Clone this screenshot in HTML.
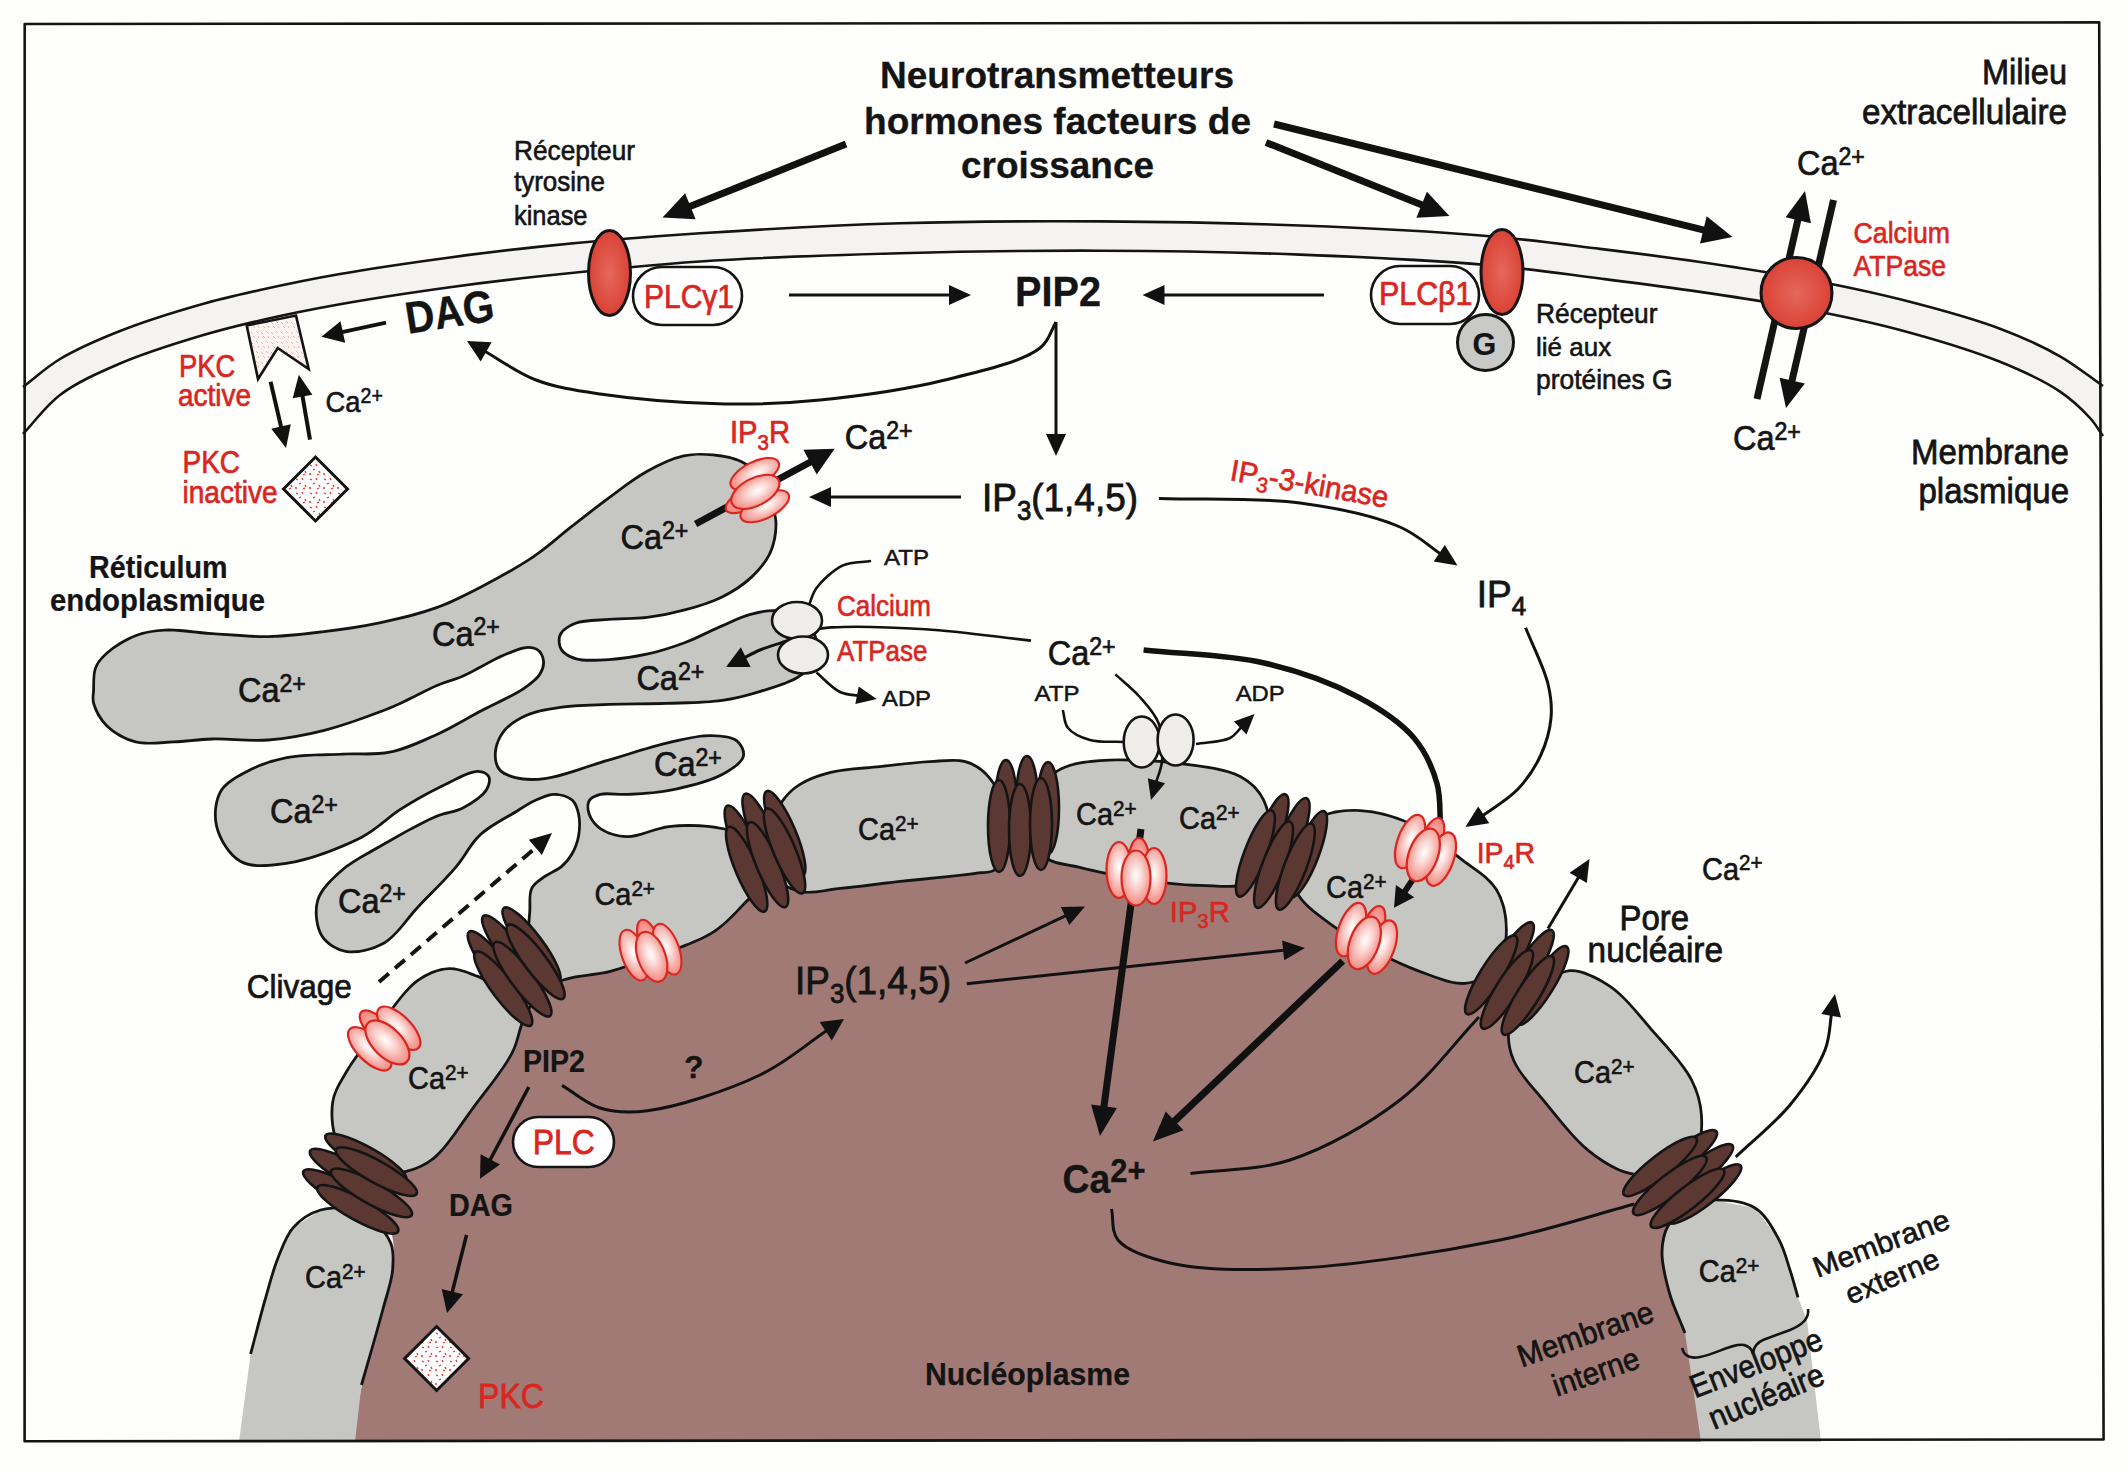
<!DOCTYPE html><html><head><meta charset="utf-8"><title>Signalisation calcique</title><style>html,body{margin:0;padding:0;background:#fefefd;}svg{display:block;}text{font-family:"Liberation Sans",sans-serif;}</style></head><body>
<svg xmlns="http://www.w3.org/2000/svg" width="2128" height="1472" viewBox="0 0 2128 1472">
<defs>
<radialGradient id="ipr" cx="50%" cy="45%" r="58%"><stop offset="0" stop-color="#ffffff"/><stop offset="0.35" stop-color="#fcd9d5"/><stop offset="1" stop-color="#f0827a"/></radialGradient>
<radialGradient id="iprb" cx="50%" cy="50%" r="55%"><stop offset="0" stop-color="#fbc9c4"/><stop offset="1" stop-color="#ee7770"/></radialGradient>
<radialGradient id="rec" cx="50%" cy="50%" r="60%"><stop offset="0" stop-color="#e5685c"/><stop offset="1" stop-color="#d83a2e"/></radialGradient>
<pattern id="pkcd" width="14" height="14" patternUnits="userSpaceOnUse"><rect width="14" height="14" fill="#fff"/><path d="M2,3 l2,1 M8,2 l1,2 M5,8 l2,-1 M11,9 l1,2 M1,12 l2,0 M9,13 l2,-1" stroke="#e8322a" stroke-width="1.3"/></pattern>
<pattern id="pkca" width="10" height="10" patternUnits="userSpaceOnUse"><rect width="10" height="10" fill="#fdf3f1"/><path d="M1,2 l2,2 M6,1 l2,2 M3,6 l2,2 M8,6 l1,2" stroke="#f4a79f" stroke-width="0.9"/></pattern>
</defs>
<rect width="2128" height="1472" fill="#fefefd"/>
<path d="M23.0,387.0 C35.3,377.7 45.7,367.6 60.0,359.0 C77.1,348.7 98.3,339.6 120.0,331.0 C144.5,321.3 175.1,311.8 200.0,304.7 C221.3,298.6 238.5,294.8 260.0,290.0 C284.7,284.5 311.1,279.0 340.0,274.0 C373.7,268.1 415.1,262.2 450.0,257.5 C481.5,253.2 505.7,250.1 540.0,246.6 C585.7,241.9 643.7,237.0 700.0,233.3 C762.9,229.1 833.3,225.3 900.0,223.3 C966.6,221.3 1033.3,221.0 1100.0,221.4 C1166.7,221.8 1234.5,223.0 1300.0,225.5 C1363.4,227.9 1432.5,231.4 1487.0,236.0 C1529.4,239.6 1563.5,244.4 1600.0,248.9 C1634.4,253.1 1666.7,257.2 1700.0,262.0 C1733.4,266.9 1766.7,271.8 1800.0,278.0 C1833.4,284.2 1866.8,290.9 1900.0,299.3 C1933.5,307.8 1971.2,317.9 2000.0,328.7 C2022.9,337.3 2042.1,346.1 2060.0,356.3 C2076.0,365.4 2088.7,376.1 2103.0,386.0 L2103.0,436.0 C2098.7,430.0 2095.7,424.2 2090.0,418.0 C2082.4,409.6 2072.4,399.9 2060.0,391.6 C2044.0,380.8 2022.9,371.1 2000.0,361.8 C1971.3,350.2 1933.5,339.0 1900.0,330.0 C1866.9,321.1 1833.4,314.4 1800.0,308.0 C1766.8,301.7 1733.4,296.8 1700.0,291.9 C1666.7,287.0 1634.4,282.9 1600.0,278.5 C1563.5,273.9 1529.5,268.7 1487.0,265.0 C1432.5,260.2 1363.4,257.0 1300.0,254.6 C1234.5,252.1 1166.7,250.9 1100.0,250.7 C1033.3,250.5 966.7,251.4 900.0,253.2 C833.3,255.0 762.9,257.3 700.0,261.5 C643.6,265.3 585.7,271.4 540.0,276.3 C505.7,280.0 481.5,282.9 450.0,287.2 C415.1,292.0 373.7,298.2 340.0,304.2 C311.2,309.3 284.7,314.7 260.0,320.4 C238.5,325.4 221.3,329.6 200.0,336.0 C175.1,343.5 144.4,353.0 120.0,363.5 C98.2,372.9 76.7,382.3 60.0,395.0 C45.1,406.3 35.3,421.0 23.0,434.0 Z" fill="#f4f3f1"/>
<path d="M23.0,387.0 C35.3,377.7 45.7,367.6 60.0,359.0 C77.1,348.7 98.3,339.6 120.0,331.0 C144.5,321.3 175.1,311.8 200.0,304.7 C221.3,298.6 238.5,294.8 260.0,290.0 C284.7,284.5 311.1,279.0 340.0,274.0 C373.7,268.1 415.1,262.2 450.0,257.5 C481.5,253.2 505.7,250.1 540.0,246.6 C585.7,241.9 643.7,237.0 700.0,233.3 C762.9,229.1 833.3,225.3 900.0,223.3 C966.6,221.3 1033.3,221.0 1100.0,221.4 C1166.7,221.8 1234.5,223.0 1300.0,225.5 C1363.4,227.9 1432.5,231.4 1487.0,236.0 C1529.4,239.6 1563.5,244.4 1600.0,248.9 C1634.4,253.1 1666.7,257.2 1700.0,262.0 C1733.4,266.9 1766.7,271.8 1800.0,278.0 C1833.4,284.2 1866.8,290.9 1900.0,299.3 C1933.5,307.8 1971.2,317.9 2000.0,328.7 C2022.9,337.3 2042.1,346.1 2060.0,356.3 C2076.0,365.4 2088.7,376.1 2103.0,386.0" fill="none" stroke="#141414" stroke-width="2.6" />
<path d="M23.0,434.0 C35.3,421.0 45.1,406.3 60.0,395.0 C76.7,382.3 98.2,372.9 120.0,363.5 C144.4,353.0 175.1,343.5 200.0,336.0 C221.3,329.6 238.5,325.4 260.0,320.4 C284.7,314.7 311.2,309.3 340.0,304.2 C373.7,298.2 415.1,292.0 450.0,287.2 C481.5,282.9 505.7,280.0 540.0,276.3 C585.7,271.4 643.6,265.3 700.0,261.5 C762.9,257.3 833.3,255.0 900.0,253.2 C966.7,251.4 1033.3,250.5 1100.0,250.7 C1166.7,250.9 1234.5,252.1 1300.0,254.6 C1363.4,257.0 1432.5,260.2 1487.0,265.0 C1529.5,268.7 1563.5,273.9 1600.0,278.5 C1634.4,282.9 1666.7,287.0 1700.0,291.9 C1733.4,296.8 1766.8,301.7 1800.0,308.0 C1833.4,314.4 1866.9,321.1 1900.0,330.0 C1933.5,339.0 1971.3,350.2 2000.0,361.8 C2022.9,371.1 2044.0,380.8 2060.0,391.6 C2072.4,399.9 2082.4,409.6 2090.0,418.0 C2095.7,424.2 2098.7,430.0 2103.0,436.0" fill="none" stroke="#141414" stroke-width="2.6" />
<path d="M352.0,1442.0 C355.3,1423.0 357.4,1405.2 362.0,1385.0 C367.3,1361.4 377.4,1332.3 383.0,1309.0 C387.7,1289.6 393.3,1272.7 394.0,1255.0 C394.7,1238.1 386.9,1218.7 388.0,1205.0 C388.8,1195.1 389.5,1187.3 395.0,1180.0 C402.2,1170.5 421.1,1167.5 433.0,1157.0 C447.2,1144.4 460.0,1124.4 472.0,1107.0 C484.0,1089.5 497.8,1069.6 505.0,1052.0 C510.9,1037.5 512.0,1022.8 515.0,1010.0 C517.6,999.2 516.2,985.5 522.0,980.0 C527.0,975.2 537.6,976.5 545.0,976.0 C551.9,975.6 557.0,977.4 565.0,977.0 C577.0,976.4 595.6,973.6 610.0,970.0 C623.9,966.5 637.6,960.2 650.0,956.0 C660.7,952.3 669.8,950.1 680.0,946.0 C691.1,941.6 703.6,937.8 714.0,930.0 C725.6,921.3 736.1,906.9 745.0,895.0 C753.2,884.2 757.9,863.5 766.0,862.0 C773.1,860.7 781.8,876.0 790.0,880.0 C797.2,883.5 802.1,885.1 812.0,886.0 C831.5,887.7 871.0,881.4 900.0,878.0 C928.6,874.7 964.1,876.6 985.0,866.0 C1001.0,857.9 1007.8,831.1 1020.0,830.0 C1031.2,829.0 1044.4,849.6 1055.0,855.0 C1062.6,858.9 1067.2,859.6 1076.0,862.0 C1090.4,865.9 1114.0,870.4 1134.0,874.0 C1155.2,877.8 1180.1,883.4 1200.0,884.0 C1216.4,884.5 1231.9,884.3 1245.0,880.0 C1256.5,876.3 1266.0,860.6 1275.0,862.0 C1284.4,863.4 1290.6,880.3 1300.0,890.0 C1311.1,901.5 1323.3,915.4 1338.0,926.0 C1354.2,937.7 1374.4,947.3 1394.0,956.0 C1414.3,965.0 1442.0,976.6 1458.0,979.0 C1467.1,980.4 1472.2,977.1 1480.0,978.0 C1489.1,979.0 1502.3,979.4 1509.0,986.0 C1516.7,993.7 1514.8,1011.5 1520.0,1025.0 C1526.2,1040.9 1534.3,1058.5 1545.0,1075.0 C1557.0,1093.6 1573.2,1115.5 1590.0,1130.0 C1605.2,1143.1 1625.2,1150.4 1640.0,1160.0 C1652.3,1168.0 1666.7,1172.7 1673.0,1183.0 C1679.0,1192.9 1676.8,1209.5 1678.0,1220.0 C1678.9,1227.7 1679.6,1231.8 1680.0,1240.0 C1680.6,1252.9 1677.8,1274.1 1680.0,1290.0 C1682.1,1305.0 1688.2,1315.2 1692.0,1333.0 C1697.9,1360.9 1702.7,1405.7 1708.0,1442.0 Z" fill="#a17a75"/>
<path d="M95.0,690.0 C95.3,683.6 94.5,674.2 97.0,668.0 C99.2,662.4 103.0,658.5 108.0,654.0 C114.8,648.0 126.2,640.8 136.0,637.0 C145.3,633.4 154.1,632.1 165.0,631.5 C178.7,630.7 195.6,634.0 212.0,635.0 C229.8,636.1 249.3,638.3 268.0,638.0 C286.7,637.7 305.3,635.3 324.0,633.0 C343.0,630.7 362.2,628.0 381.0,624.0 C399.9,620.0 419.4,615.4 437.0,609.0 C453.6,602.9 468.3,595.2 484.0,587.0 C500.6,578.3 518.8,568.3 534.0,558.0 C547.9,548.6 559.4,537.8 572.0,528.0 C584.4,518.3 596.5,508.7 609.0,499.5 C621.5,490.4 634.0,480.2 647.0,473.0 C659.1,466.3 672.2,459.9 684.0,457.3 C693.9,455.1 703.1,455.4 712.6,456.3 C722.1,457.2 732.8,459.1 741.0,463.0 C748.4,466.6 755.1,471.5 760.0,478.0 C765.4,485.2 768.5,496.7 771.0,505.0 C773.0,511.8 774.6,517.1 774.6,524.0 C774.6,532.4 772.9,543.4 769.0,552.0 C764.9,561.0 757.6,569.5 750.0,576.6 C742.1,584.0 732.4,590.2 722.0,595.4 C710.7,601.1 697.0,605.1 684.4,608.6 C672.0,612.0 659.6,614.4 647.0,616.0 C634.4,617.6 621.3,617.0 609.0,618.0 C597.3,619.0 583.9,618.5 575.0,622.0 C568.2,624.7 561.3,629.0 559.0,634.0 C556.9,638.5 557.5,645.7 560.0,650.0 C562.6,654.5 568.6,658.0 575.0,660.0 C583.7,662.8 597.4,661.6 609.0,661.0 C621.3,660.3 634.5,658.4 647.0,655.6 C659.6,652.8 672.1,648.9 684.4,644.3 C697.1,639.6 710.3,632.4 722.0,627.4 C732.0,623.1 740.8,618.6 750.0,616.0 C758.4,613.6 766.7,611.7 775.0,612.0 C783.4,612.3 793.4,613.4 800.0,618.0 C806.8,622.7 813.2,632.3 815.0,640.0 C816.7,647.0 815.1,655.9 812.0,662.0 C809.0,667.8 803.6,671.9 797.0,676.0 C787.8,681.7 772.5,686.2 760.0,690.0 C747.5,693.8 736.0,697.0 722.0,699.0 C705.2,701.4 684.8,701.3 666.0,702.0 C647.1,702.7 627.3,702.3 609.0,703.0 C592.0,703.7 574.8,703.8 560.0,706.0 C547.5,707.8 535.9,709.6 526.0,714.0 C517.2,717.9 508.4,723.3 503.0,730.0 C498.1,736.2 494.6,744.9 494.0,752.0 C493.5,758.2 494.6,765.5 498.0,770.0 C501.5,774.6 508.3,777.2 515.0,779.0 C523.4,781.2 533.3,781.5 545.0,780.0 C562.1,777.9 586.3,768.0 607.0,762.0 C627.7,756.0 650.4,748.3 669.0,744.0 C684.0,740.6 697.9,736.9 710.0,737.0 C719.7,737.1 730.8,737.8 736.0,742.0 C740.0,745.2 743.1,751.5 742.0,756.0 C740.6,761.9 730.9,768.1 722.0,773.0 C709.1,780.0 685.8,785.7 669.0,789.0 C654.3,791.9 639.5,792.4 627.0,793.0 C617.0,793.5 607.0,791.1 600.0,793.0 C595.0,794.4 590.0,796.5 588.0,800.0 C585.9,803.7 586.3,810.3 588.0,815.0 C589.9,820.3 594.4,826.3 600.0,830.0 C606.7,834.5 617.0,837.7 627.0,838.0 C639.4,838.3 655.0,829.6 669.0,828.0 C682.7,826.4 698.1,826.8 710.0,828.0 C719.4,828.9 726.7,831.0 735.0,833.0 C743.4,835.0 754.2,834.5 760.0,840.0 C766.4,846.1 771.8,860.2 770.0,870.0 C767.8,881.6 751.7,893.7 742.0,904.0 C733.0,913.6 724.4,923.0 714.0,930.0 C703.7,937.0 691.1,941.6 680.0,946.0 C669.8,950.1 660.7,952.3 650.0,956.0 C637.6,960.2 623.9,966.4 610.0,970.0 C595.6,973.8 577.6,973.9 565.0,978.0 C555.2,981.2 546.9,983.7 540.0,990.0 C532.2,997.1 526.9,1009.6 522.0,1020.0 C517.2,1030.3 517.0,1040.4 511.0,1052.0 C502.6,1068.4 485.2,1089.2 472.0,1107.0 C459.2,1124.2 446.1,1146.5 433.0,1157.0 C424.0,1164.2 415.9,1167.4 406.0,1170.0 C395.1,1172.8 380.8,1175.8 370.0,1172.0 C358.6,1168.0 346.0,1156.3 340.0,1145.0 C333.8,1133.4 332.2,1115.7 334.0,1103.0 C335.6,1091.6 341.7,1082.8 348.0,1072.0 C355.8,1058.5 367.8,1043.5 379.0,1029.0 C391.0,1013.5 404.4,991.8 418.0,982.0 C428.0,974.8 438.8,970.5 449.0,970.0 C458.7,969.5 468.6,974.6 478.0,978.0 C487.3,981.3 497.4,992.2 505.0,990.0 C513.4,987.6 520.6,971.6 525.0,960.0 C530.0,946.8 529.6,927.0 531.0,914.0 C532.0,904.4 530.0,895.2 533.0,889.0 C535.5,884.0 540.5,881.4 545.0,878.0 C550.0,874.3 557.2,872.0 562.0,868.0 C566.4,864.3 570.1,860.0 573.0,855.0 C576.2,849.5 578.8,842.7 580.0,836.0 C581.2,829.0 581.4,820.5 580.0,814.0 C578.8,808.4 577.0,802.5 573.0,799.0 C568.6,795.2 560.3,793.0 554.0,793.0 C547.7,793.0 541.2,796.3 535.0,799.0 C528.5,801.9 523.3,805.5 516.0,810.0 C505.6,816.4 489.3,824.4 479.0,834.0 C469.2,843.2 464.3,855.0 455.0,866.0 C444.1,878.9 429.3,893.0 417.0,906.0 C405.3,918.3 395.8,934.8 383.0,942.0 C371.8,948.3 356.5,951.9 346.0,950.0 C337.0,948.3 327.6,942.4 323.0,935.0 C317.9,926.7 316.1,911.3 319.0,901.0 C322.1,890.3 332.5,880.5 342.0,872.0 C352.5,862.6 365.9,856.2 380.0,848.0 C396.7,838.3 420.3,824.7 436.0,818.0 C446.7,813.5 455.4,813.6 464.0,809.0 C472.8,804.3 484.2,796.7 488.0,790.0 C490.6,785.5 491.8,779.3 490.0,776.0 C488.3,772.7 483.2,770.2 478.0,770.0 C469.1,769.7 453.5,779.0 441.0,785.0 C427.5,791.5 413.3,799.6 400.0,808.0 C386.6,816.5 376.8,827.8 361.0,836.0 C340.7,846.5 308.1,858.8 286.0,862.0 C269.4,864.4 252.4,866.4 241.0,860.0 C230.1,853.9 220.9,837.9 218.0,826.0 C215.4,815.1 216.8,801.0 222.0,792.0 C227.2,783.1 238.8,777.4 249.0,772.0 C260.2,766.1 272.9,761.8 287.0,759.0 C303.7,755.7 325.1,756.4 343.0,755.5 C359.3,754.7 374.6,756.7 390.0,753.6 C405.9,750.4 421.7,742.9 437.0,736.0 C452.4,729.0 467.2,719.8 482.0,712.0 C496.2,704.5 513.4,697.3 524.0,690.0 C531.3,685.0 537.6,680.3 541.0,675.0 C543.7,670.9 545.2,666.2 545.0,662.0 C544.8,657.9 542.9,652.7 540.0,650.0 C537.2,647.4 532.7,646.0 528.0,646.0 C521.2,646.0 512.2,650.2 503.0,654.0 C490.8,659.0 474.1,669.7 462.0,675.0 C452.8,679.0 446.0,680.2 437.0,684.0 C425.8,688.7 410.4,697.3 400.0,702.0 C392.7,705.3 389.1,706.9 381.0,710.0 C367.2,715.2 343.1,724.2 324.0,729.0 C305.4,733.7 286.7,737.2 268.0,738.6 C249.4,740.0 228.9,737.1 212.0,737.6 C198.1,738.0 186.7,740.0 174.0,740.5 C161.3,741.0 147.4,743.4 136.0,740.5 C125.6,737.8 115.0,731.8 108.0,725.0 C101.8,718.9 96.8,709.6 95.0,703.0 C93.7,698.3 94.8,694.9 95.0,690.0Z" fill="#141414" stroke="#141414" stroke-width="5.6" stroke-linejoin="round"/>
<path d="M785.0,800.0 C789.5,793.9 793.7,790.0 800.0,786.0 C807.9,781.0 818.5,776.9 830.0,774.0 C844.3,770.3 863.3,769.8 880.0,768.0 C896.7,766.2 914.8,763.8 930.0,763.0 C942.7,762.4 955.3,760.3 965.0,763.0 C973.0,765.2 979.4,769.4 985.0,775.0 C991.3,781.3 996.6,790.3 1000.0,800.0 C1003.9,811.4 1006.3,828.0 1005.0,840.0 C1003.9,850.3 1000.9,862.9 995.0,868.0 C990.1,872.2 983.8,870.6 975.0,872.0 C958.0,874.6 923.6,877.4 900.0,880.0 C878.9,882.4 858.0,885.3 840.0,887.0 C825.3,888.4 811.7,893.0 800.0,890.0 C789.3,887.3 777.2,881.0 772.0,872.0 C766.1,861.8 767.4,842.5 770.0,830.0 C772.4,818.8 779.2,807.7 785.0,800.0Z" fill="#141414" stroke="#141414" stroke-width="5.6" stroke-linejoin="round"/>
<path d="M1040.0,790.0 C1044.5,781.7 1052.9,774.6 1062.0,770.0 C1072.4,764.7 1084.9,763.3 1100.0,762.0 C1121.7,760.2 1155.4,761.9 1180.0,765.0 C1201.6,767.7 1225.7,770.2 1240.0,778.0 C1250.2,783.6 1257.3,790.6 1262.0,800.0 C1267.4,810.7 1269.8,826.9 1268.0,840.0 C1266.1,853.6 1260.6,872.5 1250.0,880.0 C1238.6,888.0 1217.4,884.2 1200.0,884.0 C1180.9,883.8 1159.9,881.0 1140.0,878.0 C1119.9,875.0 1097.2,870.4 1080.0,866.0 C1066.7,862.6 1052.5,862.7 1045.0,855.0 C1037.5,847.3 1035.6,831.3 1035.0,820.0 C1034.4,809.7 1035.4,798.4 1040.0,790.0Z" fill="#141414" stroke="#141414" stroke-width="5.6" stroke-linejoin="round"/>
<path d="M1300.0,840.0 C1305.4,831.8 1312.7,822.7 1322.0,818.0 C1332.3,812.8 1346.5,811.3 1360.0,812.0 C1375.6,812.8 1394.0,817.6 1410.0,825.0 C1427.4,833.0 1445.1,848.4 1460.0,860.0 C1473.0,870.1 1487.5,877.9 1495.0,890.0 C1502.1,901.4 1505.1,916.8 1505.0,930.0 C1504.9,942.8 1502.3,959.3 1495.0,968.0 C1488.3,976.0 1476.2,981.0 1465.0,982.0 C1451.7,983.2 1434.4,975.1 1420.0,970.0 C1406.1,965.0 1393.9,959.2 1380.0,952.0 C1364.0,943.7 1344.1,932.4 1330.0,922.0 C1318.2,913.3 1306.7,905.2 1300.0,895.0 C1294.1,886.0 1289.7,874.5 1290.0,865.0 C1290.3,856.2 1295.0,847.6 1300.0,840.0Z" fill="#141414" stroke="#141414" stroke-width="5.6" stroke-linejoin="round"/>
<path d="M1545.0,985.0 C1553.3,980.4 1560.6,972.5 1570.0,972.0 C1581.7,971.4 1597.5,979.6 1610.0,988.0 C1624.5,997.8 1637.0,1015.1 1650.0,1030.0 C1663.7,1045.7 1681.7,1064.0 1690.0,1080.0 C1696.2,1092.1 1699.2,1103.2 1700.0,1115.0 C1700.8,1126.6 1700.3,1140.7 1695.0,1150.0 C1690.0,1158.8 1680.0,1166.2 1670.0,1170.0 C1658.8,1174.3 1642.9,1175.0 1630.0,1172.0 C1616.2,1168.8 1602.9,1160.2 1590.0,1150.0 C1574.4,1137.6 1558.2,1116.0 1545.0,1100.0 C1533.6,1086.2 1520.6,1073.0 1515.0,1060.0 C1510.6,1049.8 1509.2,1039.9 1510.0,1030.0 C1510.8,1019.9 1513.9,1007.6 1520.0,1000.0 C1525.8,992.7 1536.6,989.7 1545.0,985.0Z" fill="#141414" stroke="#141414" stroke-width="5.6" stroke-linejoin="round"/>
<path d="M95.0,690.0 C95.3,683.6 94.5,674.2 97.0,668.0 C99.2,662.4 103.0,658.5 108.0,654.0 C114.8,648.0 126.2,640.8 136.0,637.0 C145.3,633.4 154.1,632.1 165.0,631.5 C178.7,630.7 195.6,634.0 212.0,635.0 C229.8,636.1 249.3,638.3 268.0,638.0 C286.7,637.7 305.3,635.3 324.0,633.0 C343.0,630.7 362.2,628.0 381.0,624.0 C399.9,620.0 419.4,615.4 437.0,609.0 C453.6,602.9 468.3,595.2 484.0,587.0 C500.6,578.3 518.8,568.3 534.0,558.0 C547.9,548.6 559.4,537.8 572.0,528.0 C584.4,518.3 596.5,508.7 609.0,499.5 C621.5,490.4 634.0,480.2 647.0,473.0 C659.1,466.3 672.2,459.9 684.0,457.3 C693.9,455.1 703.1,455.4 712.6,456.3 C722.1,457.2 732.8,459.1 741.0,463.0 C748.4,466.6 755.1,471.5 760.0,478.0 C765.4,485.2 768.5,496.7 771.0,505.0 C773.0,511.8 774.6,517.1 774.6,524.0 C774.6,532.4 772.9,543.4 769.0,552.0 C764.9,561.0 757.6,569.5 750.0,576.6 C742.1,584.0 732.4,590.2 722.0,595.4 C710.7,601.1 697.0,605.1 684.4,608.6 C672.0,612.0 659.6,614.4 647.0,616.0 C634.4,617.6 621.3,617.0 609.0,618.0 C597.3,619.0 583.9,618.5 575.0,622.0 C568.2,624.7 561.3,629.0 559.0,634.0 C556.9,638.5 557.5,645.7 560.0,650.0 C562.6,654.5 568.6,658.0 575.0,660.0 C583.7,662.8 597.4,661.6 609.0,661.0 C621.3,660.3 634.5,658.4 647.0,655.6 C659.6,652.8 672.1,648.9 684.4,644.3 C697.1,639.6 710.3,632.4 722.0,627.4 C732.0,623.1 740.8,618.6 750.0,616.0 C758.4,613.6 766.7,611.7 775.0,612.0 C783.4,612.3 793.4,613.4 800.0,618.0 C806.8,622.7 813.2,632.3 815.0,640.0 C816.7,647.0 815.1,655.9 812.0,662.0 C809.0,667.8 803.6,671.9 797.0,676.0 C787.8,681.7 772.5,686.2 760.0,690.0 C747.5,693.8 736.0,697.0 722.0,699.0 C705.2,701.4 684.8,701.3 666.0,702.0 C647.1,702.7 627.3,702.3 609.0,703.0 C592.0,703.7 574.8,703.8 560.0,706.0 C547.5,707.8 535.9,709.6 526.0,714.0 C517.2,717.9 508.4,723.3 503.0,730.0 C498.1,736.2 494.6,744.9 494.0,752.0 C493.5,758.2 494.6,765.5 498.0,770.0 C501.5,774.6 508.3,777.2 515.0,779.0 C523.4,781.2 533.3,781.5 545.0,780.0 C562.1,777.9 586.3,768.0 607.0,762.0 C627.7,756.0 650.4,748.3 669.0,744.0 C684.0,740.6 697.9,736.9 710.0,737.0 C719.7,737.1 730.8,737.8 736.0,742.0 C740.0,745.2 743.1,751.5 742.0,756.0 C740.6,761.9 730.9,768.1 722.0,773.0 C709.1,780.0 685.8,785.7 669.0,789.0 C654.3,791.9 639.5,792.4 627.0,793.0 C617.0,793.5 607.0,791.1 600.0,793.0 C595.0,794.4 590.0,796.5 588.0,800.0 C585.9,803.7 586.3,810.3 588.0,815.0 C589.9,820.3 594.4,826.3 600.0,830.0 C606.7,834.5 617.0,837.7 627.0,838.0 C639.4,838.3 655.0,829.6 669.0,828.0 C682.7,826.4 698.1,826.8 710.0,828.0 C719.4,828.9 726.7,831.0 735.0,833.0 C743.4,835.0 754.2,834.5 760.0,840.0 C766.4,846.1 771.8,860.2 770.0,870.0 C767.8,881.6 751.7,893.7 742.0,904.0 C733.0,913.6 724.4,923.0 714.0,930.0 C703.7,937.0 691.1,941.6 680.0,946.0 C669.8,950.1 660.7,952.3 650.0,956.0 C637.6,960.2 623.9,966.4 610.0,970.0 C595.6,973.8 577.6,973.9 565.0,978.0 C555.2,981.2 546.9,983.7 540.0,990.0 C532.2,997.1 526.9,1009.6 522.0,1020.0 C517.2,1030.3 517.0,1040.4 511.0,1052.0 C502.6,1068.4 485.2,1089.2 472.0,1107.0 C459.2,1124.2 446.1,1146.5 433.0,1157.0 C424.0,1164.2 415.9,1167.4 406.0,1170.0 C395.1,1172.8 380.8,1175.8 370.0,1172.0 C358.6,1168.0 346.0,1156.3 340.0,1145.0 C333.8,1133.4 332.2,1115.7 334.0,1103.0 C335.6,1091.6 341.7,1082.8 348.0,1072.0 C355.8,1058.5 367.8,1043.5 379.0,1029.0 C391.0,1013.5 404.4,991.8 418.0,982.0 C428.0,974.8 438.8,970.5 449.0,970.0 C458.7,969.5 468.6,974.6 478.0,978.0 C487.3,981.3 497.4,992.2 505.0,990.0 C513.4,987.6 520.6,971.6 525.0,960.0 C530.0,946.8 529.6,927.0 531.0,914.0 C532.0,904.4 530.0,895.2 533.0,889.0 C535.5,884.0 540.5,881.4 545.0,878.0 C550.0,874.3 557.2,872.0 562.0,868.0 C566.4,864.3 570.1,860.0 573.0,855.0 C576.2,849.5 578.8,842.7 580.0,836.0 C581.2,829.0 581.4,820.5 580.0,814.0 C578.8,808.4 577.0,802.5 573.0,799.0 C568.6,795.2 560.3,793.0 554.0,793.0 C547.7,793.0 541.2,796.3 535.0,799.0 C528.5,801.9 523.3,805.5 516.0,810.0 C505.6,816.4 489.3,824.4 479.0,834.0 C469.2,843.2 464.3,855.0 455.0,866.0 C444.1,878.9 429.3,893.0 417.0,906.0 C405.3,918.3 395.8,934.8 383.0,942.0 C371.8,948.3 356.5,951.9 346.0,950.0 C337.0,948.3 327.6,942.4 323.0,935.0 C317.9,926.7 316.1,911.3 319.0,901.0 C322.1,890.3 332.5,880.5 342.0,872.0 C352.5,862.6 365.9,856.2 380.0,848.0 C396.7,838.3 420.3,824.7 436.0,818.0 C446.7,813.5 455.4,813.6 464.0,809.0 C472.8,804.3 484.2,796.7 488.0,790.0 C490.6,785.5 491.8,779.3 490.0,776.0 C488.3,772.7 483.2,770.2 478.0,770.0 C469.1,769.7 453.5,779.0 441.0,785.0 C427.5,791.5 413.3,799.6 400.0,808.0 C386.6,816.5 376.8,827.8 361.0,836.0 C340.7,846.5 308.1,858.8 286.0,862.0 C269.4,864.4 252.4,866.4 241.0,860.0 C230.1,853.9 220.9,837.9 218.0,826.0 C215.4,815.1 216.8,801.0 222.0,792.0 C227.2,783.1 238.8,777.4 249.0,772.0 C260.2,766.1 272.9,761.8 287.0,759.0 C303.7,755.7 325.1,756.4 343.0,755.5 C359.3,754.7 374.6,756.7 390.0,753.6 C405.9,750.4 421.7,742.9 437.0,736.0 C452.4,729.0 467.2,719.8 482.0,712.0 C496.2,704.5 513.4,697.3 524.0,690.0 C531.3,685.0 537.6,680.3 541.0,675.0 C543.7,670.9 545.2,666.2 545.0,662.0 C544.8,657.9 542.9,652.7 540.0,650.0 C537.2,647.4 532.7,646.0 528.0,646.0 C521.2,646.0 512.2,650.2 503.0,654.0 C490.8,659.0 474.1,669.7 462.0,675.0 C452.8,679.0 446.0,680.2 437.0,684.0 C425.8,688.7 410.4,697.3 400.0,702.0 C392.7,705.3 389.1,706.9 381.0,710.0 C367.2,715.2 343.1,724.2 324.0,729.0 C305.4,733.7 286.7,737.2 268.0,738.6 C249.4,740.0 228.9,737.1 212.0,737.6 C198.1,738.0 186.7,740.0 174.0,740.5 C161.3,741.0 147.4,743.4 136.0,740.5 C125.6,737.8 115.0,731.8 108.0,725.0 C101.8,718.9 96.8,709.6 95.0,703.0 C93.7,698.3 94.8,694.9 95.0,690.0Z" fill="#c6c6c3"/>
<path d="M785.0,800.0 C789.5,793.9 793.7,790.0 800.0,786.0 C807.9,781.0 818.5,776.9 830.0,774.0 C844.3,770.3 863.3,769.8 880.0,768.0 C896.7,766.2 914.8,763.8 930.0,763.0 C942.7,762.4 955.3,760.3 965.0,763.0 C973.0,765.2 979.4,769.4 985.0,775.0 C991.3,781.3 996.6,790.3 1000.0,800.0 C1003.9,811.4 1006.3,828.0 1005.0,840.0 C1003.9,850.3 1000.9,862.9 995.0,868.0 C990.1,872.2 983.8,870.6 975.0,872.0 C958.0,874.6 923.6,877.4 900.0,880.0 C878.9,882.4 858.0,885.3 840.0,887.0 C825.3,888.4 811.7,893.0 800.0,890.0 C789.3,887.3 777.2,881.0 772.0,872.0 C766.1,861.8 767.4,842.5 770.0,830.0 C772.4,818.8 779.2,807.7 785.0,800.0Z" fill="#c6c6c3"/>
<path d="M1040.0,790.0 C1044.5,781.7 1052.9,774.6 1062.0,770.0 C1072.4,764.7 1084.9,763.3 1100.0,762.0 C1121.7,760.2 1155.4,761.9 1180.0,765.0 C1201.6,767.7 1225.7,770.2 1240.0,778.0 C1250.2,783.6 1257.3,790.6 1262.0,800.0 C1267.4,810.7 1269.8,826.9 1268.0,840.0 C1266.1,853.6 1260.6,872.5 1250.0,880.0 C1238.6,888.0 1217.4,884.2 1200.0,884.0 C1180.9,883.8 1159.9,881.0 1140.0,878.0 C1119.9,875.0 1097.2,870.4 1080.0,866.0 C1066.7,862.6 1052.5,862.7 1045.0,855.0 C1037.5,847.3 1035.6,831.3 1035.0,820.0 C1034.4,809.7 1035.4,798.4 1040.0,790.0Z" fill="#c6c6c3"/>
<path d="M1300.0,840.0 C1305.4,831.8 1312.7,822.7 1322.0,818.0 C1332.3,812.8 1346.5,811.3 1360.0,812.0 C1375.6,812.8 1394.0,817.6 1410.0,825.0 C1427.4,833.0 1445.1,848.4 1460.0,860.0 C1473.0,870.1 1487.5,877.9 1495.0,890.0 C1502.1,901.4 1505.1,916.8 1505.0,930.0 C1504.9,942.8 1502.3,959.3 1495.0,968.0 C1488.3,976.0 1476.2,981.0 1465.0,982.0 C1451.7,983.2 1434.4,975.1 1420.0,970.0 C1406.1,965.0 1393.9,959.2 1380.0,952.0 C1364.0,943.7 1344.1,932.4 1330.0,922.0 C1318.2,913.3 1306.7,905.2 1300.0,895.0 C1294.1,886.0 1289.7,874.5 1290.0,865.0 C1290.3,856.2 1295.0,847.6 1300.0,840.0Z" fill="#c6c6c3"/>
<path d="M1545.0,985.0 C1553.3,980.4 1560.6,972.5 1570.0,972.0 C1581.7,971.4 1597.5,979.6 1610.0,988.0 C1624.5,997.8 1637.0,1015.1 1650.0,1030.0 C1663.7,1045.7 1681.7,1064.0 1690.0,1080.0 C1696.2,1092.1 1699.2,1103.2 1700.0,1115.0 C1700.8,1126.6 1700.3,1140.7 1695.0,1150.0 C1690.0,1158.8 1680.0,1166.2 1670.0,1170.0 C1658.8,1174.3 1642.9,1175.0 1630.0,1172.0 C1616.2,1168.8 1602.9,1160.2 1590.0,1150.0 C1574.4,1137.6 1558.2,1116.0 1545.0,1100.0 C1533.6,1086.2 1520.6,1073.0 1515.0,1060.0 C1510.6,1049.8 1509.2,1039.9 1510.0,1030.0 C1510.8,1019.9 1513.9,1007.6 1520.0,1000.0 C1525.8,992.7 1536.6,989.7 1545.0,985.0Z" fill="#c6c6c3"/>
<path d="M1685.0,1333.0 L1669.6,1293.5 L1662.0,1252.0 L1668.0,1226.0 L1690.0,1205.0 L1712.5,1200.0 L1755.0,1208.0 L1778.6,1239.0 L1790.0,1270.0 L1798.0,1297.4 L1807.0,1320.0 L1821.0,1442.0 L1701.0,1442.0 Z" fill="#c6c6c3"/>
<path d="M1685.0,1333.0 C1679.9,1319.8 1673.4,1307.0 1669.6,1293.5 C1665.8,1280.0 1661.7,1264.2 1662.0,1252.0 C1662.2,1242.3 1663.6,1233.6 1668.0,1226.0 C1672.6,1217.8 1682.0,1209.3 1690.0,1205.0 C1697.0,1201.3 1703.8,1200.1 1712.5,1200.0 C1724.4,1199.8 1743.8,1201.1 1755.0,1208.0 C1765.6,1214.5 1772.7,1228.2 1778.6,1239.0 C1784.1,1248.9 1786.7,1259.9 1790.0,1270.0 C1793.1,1279.4 1795.3,1288.3 1798.0,1297.4" fill="none" stroke="#141414" stroke-width="2.8" />
<path d="M250.6,1354.0 L265.0,1300.0 L277.8,1258.5 L293.4,1227.4 L320.6,1210.0 L350.0,1210.0 L371.0,1219.6 L390.7,1243.0 L392.6,1270.0 L383.0,1309.0 L361.5,1385.0 L355.0,1442.0 L239.0,1442.0 Z" fill="#c6c6c3"/>
<path d="M250.6,1354.0 C255.4,1336.0 260.2,1316.8 265.0,1300.0 C269.3,1285.2 272.7,1271.1 277.8,1258.5 C282.3,1247.2 286.1,1235.6 293.4,1227.4 C300.5,1219.5 310.9,1212.8 320.6,1210.0 C329.8,1207.3 341.2,1208.1 350.0,1210.0 C357.8,1211.7 364.6,1214.7 371.0,1219.6 C378.4,1225.2 387.2,1234.3 390.7,1243.0 C394.0,1251.2 393.4,1260.2 392.6,1270.0 C391.6,1281.9 387.0,1293.9 383.0,1309.0 C377.4,1330.2 368.7,1359.7 361.5,1385.0" fill="none" stroke="#141414" stroke-width="2.8" />
<g transform="translate(368.0 1191.0) rotate(-61.0) scale(1.00)"><ellipse cx="-14" cy="-20" rx="11" ry="46" fill="#5c3833" stroke="#141414" stroke-width="2.6"/><ellipse cx="7" cy="-24" rx="11" ry="46" fill="#5c3833" stroke="#141414" stroke-width="2.6"/><ellipse cx="28" cy="-18" rx="11" ry="46" fill="#5c3833" stroke="#141414" stroke-width="2.6"/><ellipse cx="-21" cy="0" rx="11" ry="46" fill="#5c3833" stroke="#141414" stroke-width="2.6"/><ellipse cx="0" cy="4" rx="11" ry="46" fill="#5c3833" stroke="#141414" stroke-width="2.6"/><ellipse cx="21" cy="-2" rx="11" ry="46" fill="#5c3833" stroke="#141414" stroke-width="2.6"/></g>
<g transform="translate(520.0 976.0) rotate(-37.0) scale(1.00)"><ellipse cx="-14" cy="-20" rx="11" ry="46" fill="#5c3833" stroke="#141414" stroke-width="2.6"/><ellipse cx="7" cy="-24" rx="11" ry="46" fill="#5c3833" stroke="#141414" stroke-width="2.6"/><ellipse cx="28" cy="-18" rx="11" ry="46" fill="#5c3833" stroke="#141414" stroke-width="2.6"/><ellipse cx="-21" cy="0" rx="11" ry="46" fill="#5c3833" stroke="#141414" stroke-width="2.6"/><ellipse cx="0" cy="4" rx="11" ry="46" fill="#5c3833" stroke="#141414" stroke-width="2.6"/><ellipse cx="21" cy="-2" rx="11" ry="46" fill="#5c3833" stroke="#141414" stroke-width="2.6"/></g>
<g transform="translate(766.0 861.0) rotate(-23.0) scale(1.00)"><ellipse cx="-14" cy="-20" rx="11" ry="46" fill="#5c3833" stroke="#141414" stroke-width="2.6"/><ellipse cx="7" cy="-24" rx="11" ry="46" fill="#5c3833" stroke="#141414" stroke-width="2.6"/><ellipse cx="28" cy="-18" rx="11" ry="46" fill="#5c3833" stroke="#141414" stroke-width="2.6"/><ellipse cx="-21" cy="0" rx="11" ry="46" fill="#5c3833" stroke="#141414" stroke-width="2.6"/><ellipse cx="0" cy="4" rx="11" ry="46" fill="#5c3833" stroke="#141414" stroke-width="2.6"/><ellipse cx="21" cy="-2" rx="11" ry="46" fill="#5c3833" stroke="#141414" stroke-width="2.6"/></g>
<g transform="translate(1020.0 826.0) rotate(0.0) scale(1.00)"><ellipse cx="-14" cy="-20" rx="11" ry="46" fill="#5c3833" stroke="#141414" stroke-width="2.6"/><ellipse cx="7" cy="-24" rx="11" ry="46" fill="#5c3833" stroke="#141414" stroke-width="2.6"/><ellipse cx="28" cy="-18" rx="11" ry="46" fill="#5c3833" stroke="#141414" stroke-width="2.6"/><ellipse cx="-21" cy="0" rx="11" ry="46" fill="#5c3833" stroke="#141414" stroke-width="2.6"/><ellipse cx="0" cy="4" rx="11" ry="46" fill="#5c3833" stroke="#141414" stroke-width="2.6"/><ellipse cx="21" cy="-2" rx="11" ry="46" fill="#5c3833" stroke="#141414" stroke-width="2.6"/></g>
<g transform="translate(1275.0 861.0) rotate(21.0) scale(1.00)"><ellipse cx="-14" cy="-20" rx="11" ry="46" fill="#5c3833" stroke="#141414" stroke-width="2.6"/><ellipse cx="7" cy="-24" rx="11" ry="46" fill="#5c3833" stroke="#141414" stroke-width="2.6"/><ellipse cx="28" cy="-18" rx="11" ry="46" fill="#5c3833" stroke="#141414" stroke-width="2.6"/><ellipse cx="-21" cy="0" rx="11" ry="46" fill="#5c3833" stroke="#141414" stroke-width="2.6"/><ellipse cx="0" cy="4" rx="11" ry="46" fill="#5c3833" stroke="#141414" stroke-width="2.6"/><ellipse cx="21" cy="-2" rx="11" ry="46" fill="#5c3833" stroke="#141414" stroke-width="2.6"/></g>
<g transform="translate(1509.0 986.0) rotate(32.0) scale(1.00)"><ellipse cx="-14" cy="-20" rx="11" ry="46" fill="#5c3833" stroke="#141414" stroke-width="2.6"/><ellipse cx="7" cy="-24" rx="11" ry="46" fill="#5c3833" stroke="#141414" stroke-width="2.6"/><ellipse cx="28" cy="-18" rx="11" ry="46" fill="#5c3833" stroke="#141414" stroke-width="2.6"/><ellipse cx="-21" cy="0" rx="11" ry="46" fill="#5c3833" stroke="#141414" stroke-width="2.6"/><ellipse cx="0" cy="4" rx="11" ry="46" fill="#5c3833" stroke="#141414" stroke-width="2.6"/><ellipse cx="21" cy="-2" rx="11" ry="46" fill="#5c3833" stroke="#141414" stroke-width="2.6"/></g>
<g transform="translate(1673.0 1183.0) rotate(52.0) scale(1.00)"><ellipse cx="-14" cy="-20" rx="11" ry="46" fill="#5c3833" stroke="#141414" stroke-width="2.6"/><ellipse cx="7" cy="-24" rx="11" ry="46" fill="#5c3833" stroke="#141414" stroke-width="2.6"/><ellipse cx="28" cy="-18" rx="11" ry="46" fill="#5c3833" stroke="#141414" stroke-width="2.6"/><ellipse cx="-21" cy="0" rx="11" ry="46" fill="#5c3833" stroke="#141414" stroke-width="2.6"/><ellipse cx="0" cy="4" rx="11" ry="46" fill="#5c3833" stroke="#141414" stroke-width="2.6"/><ellipse cx="21" cy="-2" rx="11" ry="46" fill="#5c3833" stroke="#141414" stroke-width="2.6"/></g>
<ellipse cx="609.5" cy="273" rx="21" ry="42.5" fill="url(#rec)" stroke="#141414" stroke-width="3"/>
<rect x="633" y="267" width="109" height="58" rx="29" fill="#fff" stroke="#141414" stroke-width="2.6"/>
<ellipse cx="1502" cy="272" rx="21" ry="42.5" fill="url(#rec)" stroke="#141414" stroke-width="3"/>
<rect x="1371" y="266" width="108" height="58" rx="29" fill="#fff" stroke="#141414" stroke-width="2.6"/>
<circle cx="1485.5" cy="342.5" r="28" fill="#c9c9c7" stroke="#141414" stroke-width="3"/>
<line x1="1757" y1="399" x2="1799" y2="215" stroke="#141414" stroke-width="7"/>
<path d="M1805.0,191.0 L1810.9,223.2 L1785.6,217.3 Z" fill="#111"/>
<line x1="1833.5" y1="200" x2="1791" y2="385" stroke="#141414" stroke-width="7"/>
<path d="M1786.0,408.0 L1779.6,377.8 L1804.9,383.6 Z" fill="#111"/>
<circle cx="1796.5" cy="293" r="35.5" fill="url(#rec)" stroke="#141414" stroke-width="3"/>
<path d="M246.7,325.5 L296,315.6 L308.7,369 L277.7,348 L258,379 Z" fill="url(#pkca)" stroke="#141414" stroke-width="2.6" stroke-linejoin="miter"/>
<path d="M315.5,457.0 L347.5,489.0 L315.5,521.0 L283.5,489.0 Z" fill="url(#pkcd)" stroke="#141414" stroke-width="3"/>
<path d="M436.6,1326.5 L468.6,1358.5 L436.6,1390.5 L404.6,1358.5 Z" fill="url(#pkcd)" stroke="#141414" stroke-width="3"/>
<line x1="846.0" y1="144.0" x2="684.8" y2="208.6" stroke="#111" stroke-width="7"/><path d="M662.5,217.5 L685.1,193.3 L695.6,219.3 Z" fill="#111"/>
<line x1="1266.0" y1="142.5" x2="1427.2" y2="207.1" stroke="#111" stroke-width="7"/><path d="M1449.5,216.0 L1416.4,217.8 L1426.9,191.8 Z" fill="#111"/>
<line x1="1274.0" y1="124.0" x2="1709.2" y2="231.3" stroke="#111" stroke-width="7"/><path d="M1732.5,237.0 L1700.0,243.4 L1706.7,216.2 Z" fill="#111"/>
<line x1="789.0" y1="295.0" x2="953.4" y2="295.0" stroke="#111" stroke-width="3"/><path d="M971.0,295.0 L949.0,305.0 L949.0,285.0 Z" fill="#111"/>
<line x1="1324.0" y1="295.0" x2="1160.1" y2="295.0" stroke="#111" stroke-width="3"/><path d="M1142.5,295.0 L1164.5,285.0 L1164.5,305.0 Z" fill="#111"/>
<line x1="1056.0" y1="322.0" x2="1056.0" y2="438.4" stroke="#111" stroke-width="3"/><path d="M1056.0,456.0 L1046.0,434.0 L1066.0,434.0 Z" fill="#111"/>
<path d="M1056.0,322.0 C1050.7,330.7 1049.7,340.3 1040.0,348.0 C1022.5,361.9 979.2,371.6 945.0,380.0 C906.6,389.5 858.9,396.1 820.0,400.0 C786.3,403.4 758.8,404.6 725.0,404.0 C686.2,403.3 634.6,399.1 600.0,394.0 C575.0,390.3 555.9,387.6 536.0,380.0 C516.7,372.6 500.2,359.8 482.3,349.7" fill="none" stroke="#111" stroke-width="3"/><path d="M467.0,341.0 L491.6,342.2 L480.7,361.4 Z" fill="#111"/>
<line x1="386.0" y1="322.6" x2="338.6" y2="332.9" stroke="#111" stroke-width="4"/><path d="M321.4,336.7 L340.5,321.3 L345.2,342.8 Z" fill="#111"/>
<line x1="270.6" y1="381.8" x2="282.0" y2="430.9" stroke="#111" stroke-width="4"/><path d="M286.0,448.0 L271.3,428.8 L290.8,424.3 Z" fill="#111"/>
<line x1="310.0" y1="439.6" x2="301.8" y2="392.1" stroke="#111" stroke-width="4"/><path d="M298.8,374.8 L312.4,394.8 L292.7,398.2 Z" fill="#111"/>
<line x1="961.0" y1="497.0" x2="826.6" y2="497.0" stroke="#111" stroke-width="3"/><path d="M809.0,497.0 L831.0,487.0 L831.0,507.0 Z" fill="#111"/>
<line x1="695.6" y1="524.0" x2="815.0" y2="459.5" stroke="#111" stroke-width="7"/><path d="M834.7,448.8 L816.7,474.4 L803.4,449.8 Z" fill="#111"/>
<path d="M1159.0,498.5 C1206.0,500.0 1257.3,497.3 1300.0,503.0 C1336.5,507.9 1374.4,515.8 1400.0,527.0 C1418.1,534.9 1428.6,546.1 1442.9,555.6" fill="none" stroke="#111" stroke-width="3"/><path d="M1457.5,565.4 L1433.7,561.5 L1444.8,544.9 Z" fill="#111"/>
<path d="M1525.6,627.7 C1533.1,646.5 1544.0,667.3 1548.0,684.0 C1551.0,696.5 1552.1,706.5 1551.0,718.0 C1549.9,730.3 1546.0,743.8 1540.6,755.5 C1535.1,767.5 1527.0,779.5 1518.0,789.0 C1509.3,798.2 1494.9,807.1 1488.0,812.0 C1484.6,814.5 1482.7,815.5 1480.1,817.3" fill="none" stroke="#111" stroke-width="3"/><path d="M1465.4,827.0 L1478.2,806.5 L1489.3,823.2 Z" fill="#111"/>
<path d="M871.0,561.0 C861.7,562.5 851.7,561.4 843.0,565.4 C833.4,569.8 822.2,580.3 816.5,588.0 C812.3,593.6 811.5,599.3 809.0,605.0" fill="none" stroke="#111" stroke-width="2.6" />
<path d="M1031.0,640.6 C995.9,636.8 959.8,631.5 925.6,629.3 C893.4,627.3 855.8,625.9 831.6,627.4 C816.2,628.4 806.5,631.1 794.0,633.0" fill="none" stroke="#111" stroke-width="2.6" />
<path d="M790.0,640.0 C780.0,643.3 768.7,646.4 760.0,650.0 C753.0,652.9 747.8,656.1 741.7,659.1" fill="none" stroke="#111" stroke-width="3"/><path d="M726.0,667.0 L740.8,647.3 L750.6,667.0 Z" fill="#111"/>
<path d="M816.5,672.6 C824.3,679.1 831.9,688.2 840.0,692.0 C846.8,695.2 854.0,694.7 861.0,696.0" fill="none" stroke="#111" stroke-width="2.6"/><path d="M876.7,699.0 L855.4,704.1 L858.7,686.4 Z" fill="#111"/>
<path d="M1062.8,710.0 C1064.5,716.0 1064.1,723.2 1068.0,728.0 C1072.5,733.6 1081.5,737.6 1090.0,740.0 C1100.0,742.9 1113.2,741.3 1124.8,742.0" fill="none" stroke="#111" stroke-width="2.6" />
<path d="M1196.0,744.0 C1207.3,742.0 1221.8,742.2 1230.0,738.0 C1236.0,734.9 1238.7,729.5 1243.1,725.2" fill="none" stroke="#111" stroke-width="2.6"/><path d="M1254.5,714.0 L1246.5,734.4 L1233.9,721.6 Z" fill="#111"/>
<path d="M1115.4,674.4 C1123.5,681.9 1132.6,688.8 1139.8,697.0 C1146.9,705.1 1154.8,713.2 1158.6,723.3 C1162.7,734.3 1163.0,750.0 1162.0,761.0 C1161.2,769.9 1157.6,776.7 1155.3,784.6" fill="none" stroke="#111" stroke-width="2.6"/><path d="M1151.0,800.0 L1147.8,778.3 L1165.1,783.2 Z" fill="#111"/>
<path d="M1143.6,650.0 C1183.7,654.3 1226.8,654.4 1264.0,663.0 C1297.8,670.8 1331.5,682.9 1358.0,697.0 C1380.0,708.7 1400.6,722.2 1414.0,738.0 C1425.5,751.6 1432.6,767.9 1437.0,783.5 C1441.1,798.2 1439.4,813.6 1440.6,828.6" fill="none" stroke="#111" stroke-width="5.5" />
<line x1="1412.8" y1="879.5" x2="1402.9" y2="894.4" stroke="#111" stroke-width="6"/><path d="M1394.0,907.7 L1395.9,885.0 L1414.2,897.2 Z" fill="#111"/>
<line x1="1141.0" y1="829.0" x2="1103.2" y2="1112.2" stroke="#111" stroke-width="7"/><path d="M1100.0,1136.0 L1091.1,1104.5 L1116.9,1108.0 Z" fill="#111"/>
<line x1="1342.7" y1="961.0" x2="1170.3" y2="1125.1" stroke="#111" stroke-width="7"/><path d="M1152.9,1141.6 L1165.7,1111.5 L1183.6,1130.3 Z" fill="#111"/>
<line x1="965.0" y1="963.0" x2="1069.1" y2="914.1" stroke="#111" stroke-width="3"/><path d="M1085.0,906.6 L1069.3,925.0 L1060.8,906.9 Z" fill="#111"/>
<line x1="966.8" y1="983.7" x2="1287.5" y2="949.8" stroke="#111" stroke-width="3"/><path d="M1305.0,948.0 L1284.2,960.3 L1282.1,940.4 Z" fill="#111"/>
<path d="M562.0,1085.4 C574.7,1092.9 586.1,1103.7 600.0,1108.0 C614.5,1112.4 628.6,1113.1 647.5,1110.7 C677.3,1106.9 727.9,1090.4 760.0,1075.0 C787.0,1062.1 806.2,1044.2 829.4,1028.8" fill="none" stroke="#111" stroke-width="3"/><path d="M844.0,1019.0 L831.8,1040.4 L819.6,1022.1 Z" fill="#111"/>
<line x1="528.8" y1="1087.0" x2="488.3" y2="1163.3" stroke="#111" stroke-width="3.5"/><path d="M480.0,1178.8 L480.6,1154.2 L500.0,1164.5 Z" fill="#111"/>
<line x1="466.5" y1="1235.0" x2="451.3" y2="1295.9" stroke="#111" stroke-width="3.5"/><path d="M447.0,1313.0 L441.7,1289.0 L463.0,1294.3 Z" fill="#111"/>
<path d="M1190.5,1173.5 C1223.7,1169.0 1257.0,1170.8 1290.0,1160.0 C1326.9,1147.9 1368.0,1124.6 1400.0,1100.0 C1430.6,1076.5 1452.7,1044.7 1479.0,1017.0" fill="none" stroke="#111" stroke-width="3" />
<path d="M1111.5,1209.0 C1113.7,1219.3 1111.1,1231.6 1118.0,1240.0 C1127.5,1251.6 1150.7,1258.7 1173.5,1263.8 C1206.6,1271.2 1253.1,1270.5 1300.0,1268.0 C1359.2,1264.9 1440.2,1252.1 1500.0,1240.0 C1549.6,1229.9 1589.7,1216.0 1634.6,1204.0" fill="none" stroke="#111" stroke-width="3" />
<line x1="1548.0" y1="928.4" x2="1580.5" y2="874.1" stroke="#111" stroke-width="3"/><path d="M1589.5,859.0 L1586.8,883.0 L1569.6,872.7 Z" fill="#111"/>
<path d="M1735.8,1157.0 C1753.9,1139.7 1774.8,1123.5 1790.0,1105.0 C1804.2,1087.7 1818.2,1067.4 1825.0,1050.0 C1830.3,1036.5 1829.6,1024.2 1831.9,1011.3" fill="none" stroke="#111" stroke-width="3"/><path d="M1835.0,994.0 L1841.0,1017.4 L1821.3,1013.9 Z" fill="#111"/>
<line x1="379" y1="982" x2="540" y2="844" stroke="#141414" stroke-width="4" stroke-dasharray="13 8"/>
<path d="M552.0,833.0 L541.9,854.9 L528.8,839.8 Z" fill="#111"/>
<g transform="translate(757.0 491.0) rotate(63.0) scale(0.95)"><ellipse cx="3" cy="16" rx="10" ry="22" fill="url(#iprb)" stroke="#d9261f" stroke-width="2.2"/><ellipse cx="-17" cy="-6" rx="12.5" ry="28" fill="url(#ipr)" stroke="#d9261f" stroke-width="2.2"/><ellipse cx="18" cy="0" rx="12.5" ry="28" fill="url(#ipr)" stroke="#d9261f" stroke-width="2.2"/><ellipse cx="0" cy="2" rx="14.5" ry="27.5" fill="url(#ipr)" stroke="#d9261f" stroke-width="2.2"/></g>
<g transform="translate(651.0 955.0) rotate(-20.0) scale(0.95)"><ellipse cx="3" cy="-16" rx="10" ry="22" fill="url(#iprb)" stroke="#d9261f" stroke-width="2.2"/><ellipse cx="-17" cy="-6" rx="12.5" ry="28" fill="url(#ipr)" stroke="#d9261f" stroke-width="2.2"/><ellipse cx="18" cy="0" rx="12.5" ry="28" fill="url(#ipr)" stroke="#d9261f" stroke-width="2.2"/><ellipse cx="0" cy="2" rx="14.5" ry="27.5" fill="url(#ipr)" stroke="#d9261f" stroke-width="2.2"/></g>
<g transform="translate(386.0 1041.0) rotate(-45.0) scale(1.00)"><ellipse cx="3" cy="-16" rx="10" ry="22" fill="url(#iprb)" stroke="#d9261f" stroke-width="2.2"/><ellipse cx="-17" cy="-6" rx="12.5" ry="28" fill="url(#ipr)" stroke="#d9261f" stroke-width="2.2"/><ellipse cx="18" cy="0" rx="12.5" ry="28" fill="url(#ipr)" stroke="#d9261f" stroke-width="2.2"/><ellipse cx="0" cy="2" rx="14.5" ry="27.5" fill="url(#ipr)" stroke="#d9261f" stroke-width="2.2"/></g>
<g transform="translate(1136.0 876.0) rotate(0.0) scale(1.00)"><ellipse cx="3" cy="-16" rx="10" ry="22" fill="url(#iprb)" stroke="#d9261f" stroke-width="2.2"/><ellipse cx="-17" cy="-6" rx="12.5" ry="28" fill="url(#ipr)" stroke="#d9261f" stroke-width="2.2"/><ellipse cx="18" cy="0" rx="12.5" ry="28" fill="url(#ipr)" stroke="#d9261f" stroke-width="2.2"/><ellipse cx="0" cy="2" rx="14.5" ry="27.5" fill="url(#ipr)" stroke="#d9261f" stroke-width="2.2"/></g>
<g transform="translate(1365.0 941.0) rotate(20.0) scale(1.00)"><ellipse cx="3" cy="-16" rx="10" ry="22" fill="url(#iprb)" stroke="#d9261f" stroke-width="2.2"/><ellipse cx="-17" cy="-6" rx="12.5" ry="28" fill="url(#ipr)" stroke="#d9261f" stroke-width="2.2"/><ellipse cx="18" cy="0" rx="12.5" ry="28" fill="url(#ipr)" stroke="#d9261f" stroke-width="2.2"/><ellipse cx="0" cy="2" rx="14.5" ry="27.5" fill="url(#ipr)" stroke="#d9261f" stroke-width="2.2"/></g>
<g transform="translate(1424.0 853.0) rotate(20.0) scale(1.00)"><ellipse cx="3" cy="-16" rx="10" ry="22" fill="url(#iprb)" stroke="#d9261f" stroke-width="2.2"/><ellipse cx="-17" cy="-6" rx="12.5" ry="28" fill="url(#ipr)" stroke="#d9261f" stroke-width="2.2"/><ellipse cx="18" cy="0" rx="12.5" ry="28" fill="url(#ipr)" stroke="#d9261f" stroke-width="2.2"/><ellipse cx="0" cy="2" rx="14.5" ry="27.5" fill="url(#ipr)" stroke="#d9261f" stroke-width="2.2"/></g>
<ellipse cx="797.0" cy="620.5" rx="25.0" ry="18.5" fill="#eeedea" stroke="#141414" stroke-width="2.6"/>
<ellipse cx="803.0" cy="655.0" rx="25.0" ry="18.5" fill="#eeedea" stroke="#141414" stroke-width="2.6"/>
<ellipse cx="1141.7" cy="742.0" rx="18.0" ry="25.5" fill="#eeedea" stroke="#141414" stroke-width="2.6"/>
<ellipse cx="1175.6" cy="740.0" rx="18.0" ry="25.5" fill="#eeedea" stroke="#141414" stroke-width="2.6"/>
<rect x="513" y="1117" width="101" height="50" rx="25" fill="#fff" stroke="#141414" stroke-width="2.6"/>
<text x="880.0" y="88.0" font-size="37.0" font-weight="bold" fill="#141414" stroke="#141414" stroke-width="0.30" text-anchor="start" textLength="354.0" lengthAdjust="spacingAndGlyphs" >Neurotransmetteurs</text>
<text x="864.0" y="133.8" font-size="37.0" font-weight="bold" fill="#141414" stroke="#141414" stroke-width="0.30" text-anchor="start" textLength="387.0" lengthAdjust="spacingAndGlyphs" >hormones facteurs de</text>
<text x="961.0" y="177.5" font-size="37.0" font-weight="bold" fill="#141414" stroke="#141414" stroke-width="0.30" text-anchor="start" textLength="193.0" lengthAdjust="spacingAndGlyphs" >croissance</text>
<text x="1982.0" y="84.0" font-size="34.6" font-weight="normal" fill="#141414" stroke="#141414" stroke-width="0.76" text-anchor="start" textLength="85.0" lengthAdjust="spacingAndGlyphs" >Milieu</text>
<text x="1862.0" y="124.0" font-size="34.6" font-weight="normal" fill="#141414" stroke="#141414" stroke-width="0.76" text-anchor="start" textLength="205.0" lengthAdjust="spacingAndGlyphs" >extracellulaire</text>
<text x="514.0" y="160.0" font-size="28.1" font-weight="normal" fill="#141414" stroke="#141414" stroke-width="0.62" text-anchor="start" textLength="121.0" lengthAdjust="spacingAndGlyphs" >Récepteur</text>
<text x="514.0" y="191.0" font-size="28.1" font-weight="normal" fill="#141414" stroke="#141414" stroke-width="0.62" text-anchor="start" textLength="91.0" lengthAdjust="spacingAndGlyphs" >tyrosine</text>
<text x="514.0" y="225.0" font-size="28.1" font-weight="normal" fill="#141414" stroke="#141414" stroke-width="0.62" text-anchor="start" textLength="73.5" lengthAdjust="spacingAndGlyphs" >kinase</text>
<text x="1797.0" y="175.0" font-size="35.2" font-weight="normal" fill="#141414" stroke="#141414" stroke-width="0.70" textLength="67.9" lengthAdjust="spacingAndGlyphs">Ca<tspan font-size="25.1" dy="-10.2">2+</tspan></text>
<text x="1853.5" y="242.5" font-size="29.2" font-weight="normal" fill="#d9261f" stroke="#d9261f" stroke-width="0.64" text-anchor="start" textLength="96.5" lengthAdjust="spacingAndGlyphs" >Calcium</text>
<text x="1853.5" y="276.0" font-size="29.2" font-weight="normal" fill="#d9261f" stroke="#d9261f" stroke-width="0.64" text-anchor="start" textLength="92.5" lengthAdjust="spacingAndGlyphs" >ATPase</text>
<text x="644.0" y="308.0" font-size="33.5" font-weight="normal" fill="#d9261f" stroke="#d9261f" stroke-width="0.74" text-anchor="start" textLength="90.0" lengthAdjust="spacingAndGlyphs" >PLCγ1</text>
<text x="1379.0" y="305.0" font-size="33.5" font-weight="normal" fill="#d9261f" stroke="#d9261f" stroke-width="0.74" text-anchor="start" textLength="93.5" lengthAdjust="spacingAndGlyphs" >PLCβ1</text>
<text x="1472.5" y="355.0" font-size="30.5" font-weight="bold" fill="#141414" stroke="#141414" stroke-width="0.24" text-anchor="start" >G</text>
<text x="1536.0" y="322.5" font-size="28.1" font-weight="normal" fill="#141414" stroke="#141414" stroke-width="0.62" text-anchor="start" textLength="121.5" lengthAdjust="spacingAndGlyphs" >Récepteur</text>
<text x="1536.0" y="356.0" font-size="26.0" font-weight="normal" fill="#141414" stroke="#141414" stroke-width="0.57" text-anchor="start" >lié aux</text>
<text x="1536.0" y="389.0" font-size="28.1" font-weight="normal" fill="#141414" stroke="#141414" stroke-width="0.62" text-anchor="start" textLength="136.5" lengthAdjust="spacingAndGlyphs" >protéines G</text>
<text x="1733.0" y="450.0" font-size="35.2" font-weight="normal" fill="#141414" stroke="#141414" stroke-width="0.70" textLength="67.9" lengthAdjust="spacingAndGlyphs">Ca<tspan font-size="25.1" dy="-10.2">2+</tspan></text>
<text x="1911.0" y="464.0" font-size="35.6" font-weight="normal" fill="#141414" stroke="#141414" stroke-width="0.78" text-anchor="start" textLength="158.0" lengthAdjust="spacingAndGlyphs" >Membrane</text>
<text x="1918.5" y="502.5" font-size="35.6" font-weight="normal" fill="#141414" stroke="#141414" stroke-width="0.78" text-anchor="start" textLength="150.5" lengthAdjust="spacingAndGlyphs" >plasmique</text>
<text x="408.0" y="334.0" font-size="45.1" font-weight="bold" fill="#141414" stroke="#141414" stroke-width="0.36" text-anchor="start" textLength="89.0" lengthAdjust="spacingAndGlyphs" transform="rotate(-9.00 408.0 334.0)" >DAG</text>
<text x="179.0" y="377.0" font-size="31.3" font-weight="normal" fill="#d9261f" stroke="#d9261f" stroke-width="0.69" text-anchor="start" textLength="56.4" lengthAdjust="spacingAndGlyphs" >PKC</text>
<text x="178.0" y="406.4" font-size="31.3" font-weight="normal" fill="#d9261f" stroke="#d9261f" stroke-width="0.69" text-anchor="start" textLength="73.0" lengthAdjust="spacingAndGlyphs" >active</text>
<text x="182.5" y="473.0" font-size="31.3" font-weight="normal" fill="#d9261f" stroke="#d9261f" stroke-width="0.69" text-anchor="start" textLength="57.5" lengthAdjust="spacingAndGlyphs" >PKC</text>
<text x="182.5" y="502.5" font-size="31.3" font-weight="normal" fill="#d9261f" stroke="#d9261f" stroke-width="0.69" text-anchor="start" textLength="95.0" lengthAdjust="spacingAndGlyphs" >inactive</text>
<text x="325.6" y="411.5" font-size="29.7" font-weight="normal" fill="#141414" stroke="#141414" stroke-width="0.59" textLength="57.3" lengthAdjust="spacingAndGlyphs">Ca<tspan font-size="21.2" dy="-8.6">2+</tspan></text>
<text x="1015.0" y="306.0" font-size="43.1" font-weight="bold" fill="#141414" stroke="#141414" stroke-width="0.34" text-anchor="start" textLength="86.0" lengthAdjust="spacingAndGlyphs" >PIP2</text>
<text x="982.0" y="511.0" font-size="39.6" fill="#141414" stroke="#141414" stroke-width="0.87" font-weight="normal" textLength="156.0" lengthAdjust="spacingAndGlyphs">IP<tspan font-size="27.7" dy="8.7">3</tspan><tspan dy="-8.7">(1,4,5)</tspan></text>
<text x="730.0" y="443.0" font-size="32.1" fill="#d9261f" stroke="#d9261f" stroke-width="0.71" font-weight="normal" textLength="60.0" lengthAdjust="spacingAndGlyphs">IP<tspan font-size="22.5" dy="7.1">3</tspan><tspan dy="-7.1">R</tspan></text>
<text x="844.7" y="449.0" font-size="35.2" font-weight="normal" fill="#141414" stroke="#141414" stroke-width="0.70" textLength="67.9" lengthAdjust="spacingAndGlyphs">Ca<tspan font-size="25.1" dy="-10.2">2+</tspan></text>
<text transform="rotate(10 1229 480)" x="1229.0" y="480.0" font-size="30.0" fill="#d9261f" stroke="#d9261f" stroke-width="0.66" font-weight="normal" textLength="160.0" lengthAdjust="spacingAndGlyphs">IP<tspan font-size="21.0" dy="6.6">3</tspan><tspan dy="-6.6">-3-kinase</tspan></text>
<text x="1476.7" y="607.0" font-size="37.0" fill="#141414" stroke="#141414" stroke-width="0.81" font-weight="normal">IP<tspan font-size="25.9" dy="8.1">4</tspan><tspan dy="-8.1"></tspan></text>
<text x="89.0" y="577.5" font-size="30.5" font-weight="bold" fill="#141414" stroke="#141414" stroke-width="0.24" text-anchor="start" textLength="138.5" lengthAdjust="spacingAndGlyphs" >Réticulum</text>
<text x="50.0" y="611.0" font-size="30.5" font-weight="bold" fill="#141414" stroke="#141414" stroke-width="0.24" text-anchor="start" textLength="215.0" lengthAdjust="spacingAndGlyphs" >endoplasmique</text>
<text x="884.0" y="565.4" font-size="22.7" font-weight="normal" fill="#141414" stroke="#141414" stroke-width="0.50" text-anchor="start" textLength="45.0" lengthAdjust="spacingAndGlyphs" >ATP</text>
<text x="837.0" y="616.0" font-size="29.2" font-weight="normal" fill="#d9261f" stroke="#d9261f" stroke-width="0.64" text-anchor="start" textLength="94.0" lengthAdjust="spacingAndGlyphs" >Calcium</text>
<text x="837.0" y="661.0" font-size="29.2" font-weight="normal" fill="#d9261f" stroke="#d9261f" stroke-width="0.64" text-anchor="start" textLength="90.5" lengthAdjust="spacingAndGlyphs" >ATPase</text>
<text x="882.0" y="706.0" font-size="22.7" font-weight="normal" fill="#141414" stroke="#141414" stroke-width="0.50" text-anchor="start" textLength="49.0" lengthAdjust="spacingAndGlyphs" >ADP</text>
<text x="1047.7" y="665.0" font-size="35.2" font-weight="normal" fill="#141414" stroke="#141414" stroke-width="0.70" textLength="67.9" lengthAdjust="spacingAndGlyphs">Ca<tspan font-size="25.1" dy="-10.2">2+</tspan></text>
<text x="1034.6" y="700.7" font-size="22.7" font-weight="normal" fill="#141414" stroke="#141414" stroke-width="0.50" text-anchor="start" textLength="45.0" lengthAdjust="spacingAndGlyphs" >ATP</text>
<text x="1235.7" y="700.7" font-size="22.7" font-weight="normal" fill="#141414" stroke="#141414" stroke-width="0.50" text-anchor="start" textLength="49.0" lengthAdjust="spacingAndGlyphs" >ADP</text>
<text x="238.0" y="702.0" font-size="35.2" font-weight="normal" fill="#141414" stroke="#141414" stroke-width="0.70" textLength="67.9" lengthAdjust="spacingAndGlyphs">Ca<tspan font-size="25.1" dy="-10.2">2+</tspan></text>
<text x="432.0" y="645.6" font-size="35.2" font-weight="normal" fill="#141414" stroke="#141414" stroke-width="0.70" textLength="67.9" lengthAdjust="spacingAndGlyphs">Ca<tspan font-size="25.1" dy="-10.2">2+</tspan></text>
<text x="620.5" y="549.4" font-size="35.2" font-weight="normal" fill="#141414" stroke="#141414" stroke-width="0.70" textLength="67.9" lengthAdjust="spacingAndGlyphs">Ca<tspan font-size="25.1" dy="-10.2">2+</tspan></text>
<text x="636.4" y="690.3" font-size="35.2" font-weight="normal" fill="#141414" stroke="#141414" stroke-width="0.70" textLength="67.9" lengthAdjust="spacingAndGlyphs">Ca<tspan font-size="25.1" dy="-10.2">2+</tspan></text>
<text x="270.0" y="823.0" font-size="35.2" font-weight="normal" fill="#141414" stroke="#141414" stroke-width="0.70" textLength="67.9" lengthAdjust="spacingAndGlyphs">Ca<tspan font-size="25.1" dy="-10.2">2+</tspan></text>
<text x="338.0" y="912.5" font-size="35.2" font-weight="normal" fill="#141414" stroke="#141414" stroke-width="0.70" textLength="67.9" lengthAdjust="spacingAndGlyphs">Ca<tspan font-size="25.1" dy="-10.2">2+</tspan></text>
<text x="654.0" y="776.4" font-size="35.2" font-weight="normal" fill="#141414" stroke="#141414" stroke-width="0.70" textLength="67.9" lengthAdjust="spacingAndGlyphs">Ca<tspan font-size="25.1" dy="-10.2">2+</tspan></text>
<text x="594.4" y="905.0" font-size="31.4" font-weight="normal" fill="#141414" stroke="#141414" stroke-width="0.63" textLength="60.5" lengthAdjust="spacingAndGlyphs">Ca<tspan font-size="22.4" dy="-9.1">2+</tspan></text>
<text x="858.0" y="839.8" font-size="31.4" font-weight="normal" fill="#141414" stroke="#141414" stroke-width="0.63" textLength="60.5" lengthAdjust="spacingAndGlyphs">Ca<tspan font-size="22.4" dy="-9.1">2+</tspan></text>
<text x="1076.0" y="824.8" font-size="31.4" font-weight="normal" fill="#141414" stroke="#141414" stroke-width="0.63" textLength="60.5" lengthAdjust="spacingAndGlyphs">Ca<tspan font-size="22.4" dy="-9.1">2+</tspan></text>
<text x="1179.0" y="828.6" font-size="31.4" font-weight="normal" fill="#141414" stroke="#141414" stroke-width="0.63" textLength="60.5" lengthAdjust="spacingAndGlyphs">Ca<tspan font-size="22.4" dy="-9.1">2+</tspan></text>
<text x="1326.0" y="898.0" font-size="31.4" font-weight="normal" fill="#141414" stroke="#141414" stroke-width="0.63" textLength="60.5" lengthAdjust="spacingAndGlyphs">Ca<tspan font-size="22.4" dy="-9.1">2+</tspan></text>
<text x="1574.0" y="1083.4" font-size="31.4" font-weight="normal" fill="#141414" stroke="#141414" stroke-width="0.63" textLength="60.5" lengthAdjust="spacingAndGlyphs">Ca<tspan font-size="22.4" dy="-9.1">2+</tspan></text>
<text x="1698.8" y="1282.0" font-size="31.4" font-weight="normal" fill="#141414" stroke="#141414" stroke-width="0.63" textLength="60.5" lengthAdjust="spacingAndGlyphs">Ca<tspan font-size="22.4" dy="-9.1">2+</tspan></text>
<text x="305.0" y="1287.7" font-size="31.4" font-weight="normal" fill="#141414" stroke="#141414" stroke-width="0.63" textLength="60.5" lengthAdjust="spacingAndGlyphs">Ca<tspan font-size="22.4" dy="-9.1">2+</tspan></text>
<text x="408.0" y="1089.0" font-size="31.4" font-weight="normal" fill="#141414" stroke="#141414" stroke-width="0.63" textLength="60.5" lengthAdjust="spacingAndGlyphs">Ca<tspan font-size="22.4" dy="-9.1">2+</tspan></text>
<text x="1476.7" y="862.6" font-size="30.0" fill="#d9261f" stroke="#d9261f" stroke-width="0.66" font-weight="normal" textLength="58.3" lengthAdjust="spacingAndGlyphs">IP<tspan font-size="21.0" dy="6.6">4</tspan><tspan dy="-6.6">R</tspan></text>
<text x="1169.8" y="921.7" font-size="30.0" fill="#d9261f" stroke="#d9261f" stroke-width="0.66" font-weight="normal" textLength="60.0" lengthAdjust="spacingAndGlyphs">IP<tspan font-size="21.0" dy="6.6">3</tspan><tspan dy="-6.6">R</tspan></text>
<text x="795.0" y="994.0" font-size="39.6" fill="#141414" stroke="#141414" stroke-width="0.87" font-weight="normal" textLength="156.0" lengthAdjust="spacingAndGlyphs">IP<tspan font-size="27.7" dy="8.7">3</tspan><tspan dy="-8.7">(1,4,5)</tspan></text>
<text x="523.0" y="1071.7" font-size="30.5" font-weight="bold" fill="#141414" stroke="#141414" stroke-width="0.24" text-anchor="start" textLength="62.0" lengthAdjust="spacingAndGlyphs" >PIP2</text>
<text x="684.0" y="1077.6" font-size="32.0" font-weight="bold" fill="#141414" stroke="#141414" stroke-width="0.26" text-anchor="start" >?</text>
<text x="532.7" y="1153.5" font-size="34.6" font-weight="normal" fill="#d9261f" stroke="#d9261f" stroke-width="0.76" text-anchor="start" textLength="62.0" lengthAdjust="spacingAndGlyphs" >PLC</text>
<text x="449.0" y="1215.7" font-size="30.5" font-weight="bold" fill="#141414" stroke="#141414" stroke-width="0.24" text-anchor="start" textLength="64.0" lengthAdjust="spacingAndGlyphs" >DAG</text>
<text x="478.0" y="1408.0" font-size="35.6" font-weight="normal" fill="#d9261f" stroke="#d9261f" stroke-width="0.78" text-anchor="start" textLength="66.0" lengthAdjust="spacingAndGlyphs" >PKC</text>
<text x="1062.6" y="1193.0" font-size="40.0" font-weight="bold" fill="#141414" stroke="#141414" stroke-width="0.32" textLength="83.0" lengthAdjust="spacingAndGlyphs">Ca<tspan font-size="33.2" dy="-10.8">2+</tspan></text>
<text x="246.7" y="998.0" font-size="33.5" font-weight="normal" fill="#141414" stroke="#141414" stroke-width="0.74" text-anchor="start" textLength="105.0" lengthAdjust="spacingAndGlyphs" >Clivage</text>
<text x="1619.5" y="930.0" font-size="35.6" font-weight="normal" fill="#141414" stroke="#141414" stroke-width="0.78" text-anchor="start" textLength="69.5" lengthAdjust="spacingAndGlyphs" >Pore</text>
<text x="1587.6" y="962.0" font-size="35.6" font-weight="normal" fill="#141414" stroke="#141414" stroke-width="0.78" text-anchor="start" textLength="135.4" lengthAdjust="spacingAndGlyphs" >nucléaire</text>
<text x="1702.0" y="879.5" font-size="31.4" font-weight="normal" fill="#141414" stroke="#141414" stroke-width="0.63" textLength="60.5" lengthAdjust="spacingAndGlyphs">Ca<tspan font-size="22.4" dy="-9.1">2+</tspan></text>
<text x="925.0" y="1385.0" font-size="31.5" font-weight="bold" fill="#141414" stroke="#141414" stroke-width="0.25" text-anchor="start" textLength="205.0" lengthAdjust="spacingAndGlyphs" >Nucléoplasme</text>
<text x="1521.8" y="1367.5" font-size="31.3" font-weight="normal" fill="#141414" stroke="#141414" stroke-width="0.69" text-anchor="start" textLength="142.0" lengthAdjust="spacingAndGlyphs" transform="rotate(-19.20 1521.8 1367.5)" >Membrane</text>
<text x="1556.8" y="1396.7" font-size="31.3" font-weight="normal" fill="#141414" stroke="#141414" stroke-width="0.69" text-anchor="start" textLength="90.0" lengthAdjust="spacingAndGlyphs" transform="rotate(-19.20 1556.8 1396.7)" >interne</text>
<text x="1695.0" y="1398.6" font-size="32.4" font-weight="normal" fill="#141414" stroke="#141414" stroke-width="0.71" text-anchor="start" textLength="139.5" lengthAdjust="spacingAndGlyphs" transform="rotate(-21.30 1695.0 1398.6)" >Enveloppe</text>
<text x="1714.0" y="1429.7" font-size="32.4" font-weight="normal" fill="#141414" stroke="#141414" stroke-width="0.71" text-anchor="start" textLength="122.0" lengthAdjust="spacingAndGlyphs" transform="rotate(-22.50 1714.0 1429.7)" >nucléaire</text>
<text x="1817.5" y="1278.0" font-size="29.2" font-weight="normal" fill="#141414" stroke="#141414" stroke-width="0.64" text-anchor="start" textLength="143.5" lengthAdjust="spacingAndGlyphs" transform="rotate(-20.60 1817.5 1278.0)" >Membrane</text>
<text x="1850.6" y="1305.0" font-size="29.2" font-weight="normal" fill="#141414" stroke="#141414" stroke-width="0.64" text-anchor="start" textLength="99.0" lengthAdjust="spacingAndGlyphs" transform="rotate(-23.00 1850.6 1305.0)" >externe</text>
<path d="M1682,1348 Q1685,1360 1700,1357 C1716,1354 1733,1343 1744,1345 Q1751,1347 1753,1353 Q1754,1344 1763,1340 L1790,1330 Q1810,1322 1808,1309" fill="none" stroke="#141414" stroke-width="2.6"/>
<path d="M24.7,24 L2099.2,22.4 L2103.6,1439.4 L24.6,1441.3 Z" fill="none" stroke="#141414" stroke-width="2.6" stroke-linejoin="round"/>
</svg></body></html>
